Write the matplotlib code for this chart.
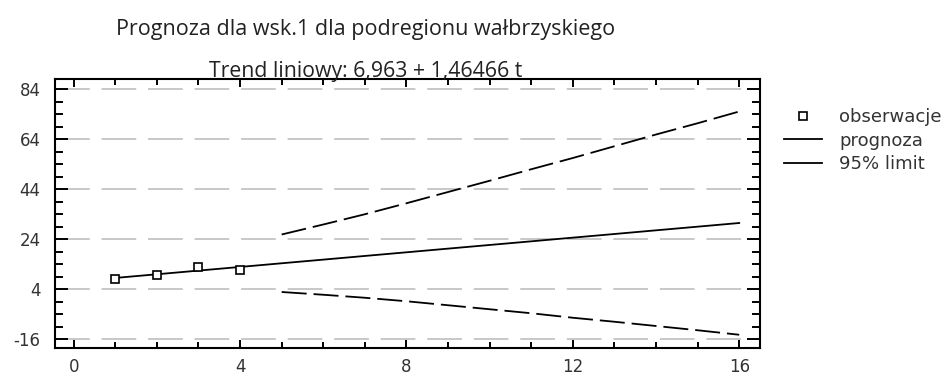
import matplotlib
matplotlib.use("Agg")
import matplotlib.pyplot as plt
from matplotlib.lines import Line2D
from matplotlib.ticker import FixedLocator

# Observed values of indicator 1 (t = 1..4)
obs_t = [1, 2, 3, 4]
obs_values = [8.0, 9.7, 13.0, 11.8]

# Linear trend forecast: 6,963 + 1,46466 t
forecast_t = list(range(1, 17))
forecast_values = [8.43, 9.89, 11.36, 12.82, 14.29, 15.75, 17.22, 18.68,
                   20.15, 21.61, 23.07, 24.54, 26.00, 27.47, 28.93, 30.40]

# 95% prediction limits (t = 5..16)
limit_t = list(range(5, 17))
upper_limit = [25.8, 29.8, 33.9, 38.3, 42.8, 47.3, 51.9, 56.4, 61.1, 65.8, 70.3, 75.0]
lower_limit = [2.8, 1.7, 0.5, -0.9, -2.5, -4.1, -5.7, -7.5, -9.1, -10.8, -12.5, -14.3]

y_ticks = [-16, 4, 24, 44, 64, 84]
x_ticks = [0, 4, 8, 12, 16]

title_text = "Prognoza dla wsk.1 dla podregionu wałbrzyskiego"
subtitle_text = "Trend liniowy: 6,963 + 1,46466 t"
legend_labels = ["obserwacje", "prognoza", "95% limit"]

plt.rcParams["lines.scale_dashes"] = False
plt.rcParams["axes.unicode_minus"] = False
W, H, DPI = 946, 374, 100
fig = plt.figure(figsize=(W / DPI, H / DPI), dpi=DPI)
ax = fig.add_axes([55 / W, 1 - 348 / H, (760 - 55) / W, (348 - 79) / H])

# horizontal grid
for yv in y_ticks:
    ax.axhline(yv, color="#c4c4c4", lw=1.3, dashes=(25, 8.5), zorder=1)

ax.plot(forecast_t, forecast_values, color="black", lw=1.3, zorder=3)
ax.plot(limit_t, upper_limit, color="black", lw=1.3, dashes=(18, 5), zorder=3)
ax.plot(limit_t, lower_limit, color="black", lw=1.3, dashes=(18, 5), zorder=3)
ax.plot(obs_t, obs_values, linestyle="none", marker="s", ms=6, mfc="white",
        mec="black", mew=1.2, zorder=4)

ax.set_xlim(-0.45, 16.5)
ax.set_ylim(-19.6, 88)
ax.set_xticks(x_ticks)
ax.set_yticks(y_ticks)
ax.xaxis.set_minor_locator(FixedLocator([v for v in range(0, 17) if v not in x_ticks]))
ax.yaxis.set_minor_locator(FixedLocator([v for v in range(-16, 89, 5) if v not in y_ticks]))
ax.tick_params(axis="both", which="both", direction="in", top=True, right=True,
               colors="black", width=1.4, labelcolor="#333333", labelsize=12)
ax.tick_params(axis="x", which="major", length=6, pad=7)
ax.tick_params(axis="x", which="minor", length=4)
ax.tick_params(axis="y", which="major", length=9.5, pad=10.5)
ax.tick_params(axis="y", which="minor", length=6)
for s in ax.spines.values():
    s.set_linewidth(1.5)

fig.text(366 / W, 1 - 29 / H, title_text, ha="center", va="center",
         fontsize=15.5, family="Open Sans", color="#222222")
fig.text(366 / W, 1 - 77 / H, subtitle_text, ha="center", va="baseline",
         fontsize=15.3, family="Open Sans", color="#222222")

handles = [
    Line2D([], [], linestyle="none", marker="s", ms=5.5, mfc="white", mec="black", mew=1.2),
    Line2D([], [], color="black", lw=1.3),
    Line2D([], [], color="black", lw=1.3),
]
fig.legend(handles, legend_labels, loc="upper left",
           bbox_to_anchor=(784 / W, 1 - 108 / H), frameon=False,
           borderpad=0, borderaxespad=0,
           handlelength=2.1, handletextpad=0.95, labelspacing=0.31,
           prop={"family": "DejaVu Sans", "size": 13}, labelcolor="#333333")

fig.savefig("out.png", dpi=DPI)
